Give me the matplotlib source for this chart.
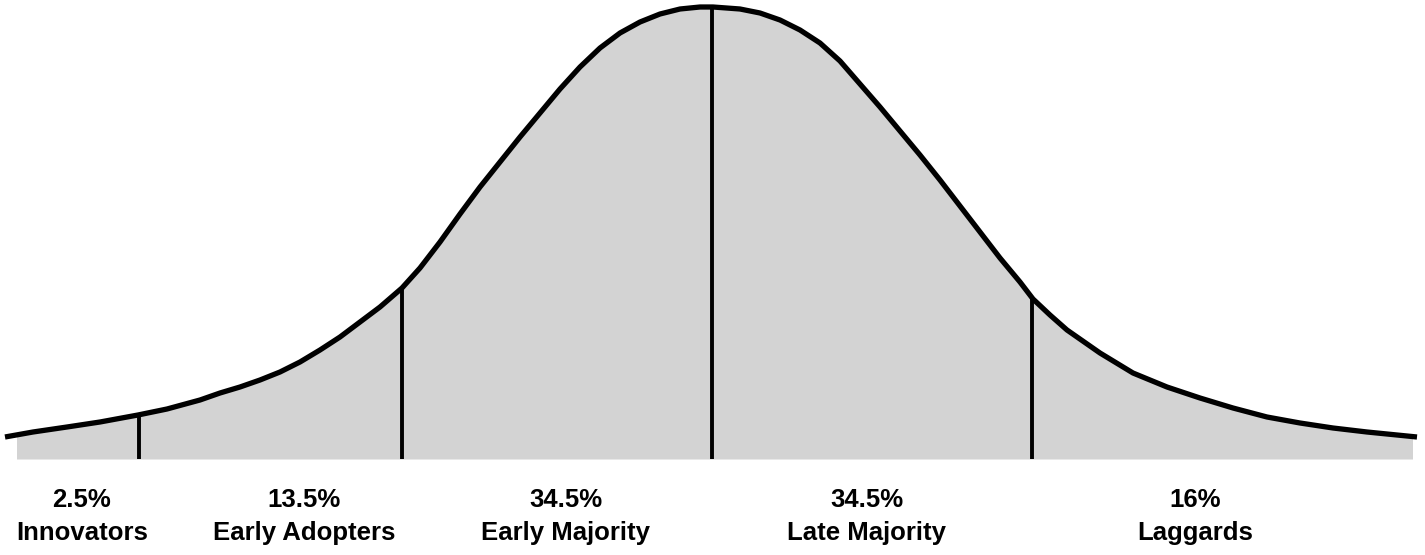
import numpy as np
import matplotlib
matplotlib.use("Agg")
import matplotlib.pyplot as plt
from matplotlib import font_manager
from matplotlib.patches import Rectangle

# === Data (pixel units, y grows downward) ===
curve_x = [5, 33, 67, 100, 138, 167, 200, 220, 240, 260, 280, 300, 320, 340,
           360, 380, 402, 420, 440, 460, 480, 500, 520, 540, 560, 580, 600,
           620, 640, 660, 680, 700, 713, 740, 760, 780, 800, 820, 840, 860,
           880, 900, 920, 940, 960, 980, 1000, 1020, 1033, 1050, 1067, 1100,
           1133, 1167, 1200, 1233, 1267, 1300, 1333, 1367, 1417]
curve_y = [437, 432, 427, 422, 415, 409, 400, 393, 387, 380, 372, 362, 350, 337,
           322, 307, 288, 268, 242, 214, 187, 162, 137, 113, 89, 67, 48,
           33, 22, 14, 9, 7, 7, 9, 13, 20, 30, 43, 61, 84,
           107, 131, 155, 180, 206, 232, 258, 282, 299, 315, 330, 353,
           373, 387, 398, 408, 417, 423, 428, 432, 437]

divider_x = [139, 402, 712, 1032]
divider_top = [415, 288, 7, 299]

shares = ["2.5%", "13.5%", "34.5%", "34.5%", "16%"]
groups = ["Innovators", "Early Adopters", "Early Majority", "Late Majority", "Laggards"]
label_x = [82, 304, 566, 867, 1195]

baseline = 459
fill_left, fill_right = 17, 1412

# === Font ===
installed = {f.name for f in font_manager.fontManager.ttflist}
if "Liberation Sans Narrow" in installed:
    label_font, label_size = "Liberation Sans Narrow", 21
else:
    label_font, label_size = "Liberation Sans", 18.5

# === Plot ===
fig = plt.figure(figsize=(14.25, 5.55), dpi=100)
ax = fig.add_axes([0, 0, 1, 1])
ax.set_xlim(0, 1425)
ax.set_ylim(555, 0)
ax.axis("off")

fill = ax.fill_between(curve_x, curve_y, baseline, color="#d3d3d3", lw=0, zorder=1)
clip = Rectangle((fill_left, 0), fill_right - fill_left, baseline, transform=ax.transData)
fill.set_clip_path(clip)

ax.vlines(divider_x, divider_top, baseline, color="black", lw=2.8, zorder=2)
ax.plot(curve_x, curve_y, color="black", lw=3.8, solid_capstyle="butt",
        solid_joinstyle="round", zorder=3)

for x, s, g in zip(label_x, shares, groups):
    ax.text(x, 500, s, ha="center", va="center", fontsize=label_size,
            fontweight="bold", family=[label_font, "DejaVu Sans"])
    ax.text(x, 533, g, ha="center", va="center", fontsize=label_size,
            fontweight="bold", family=[label_font, "DejaVu Sans"])

fig.savefig("out.png", dpi=100)
